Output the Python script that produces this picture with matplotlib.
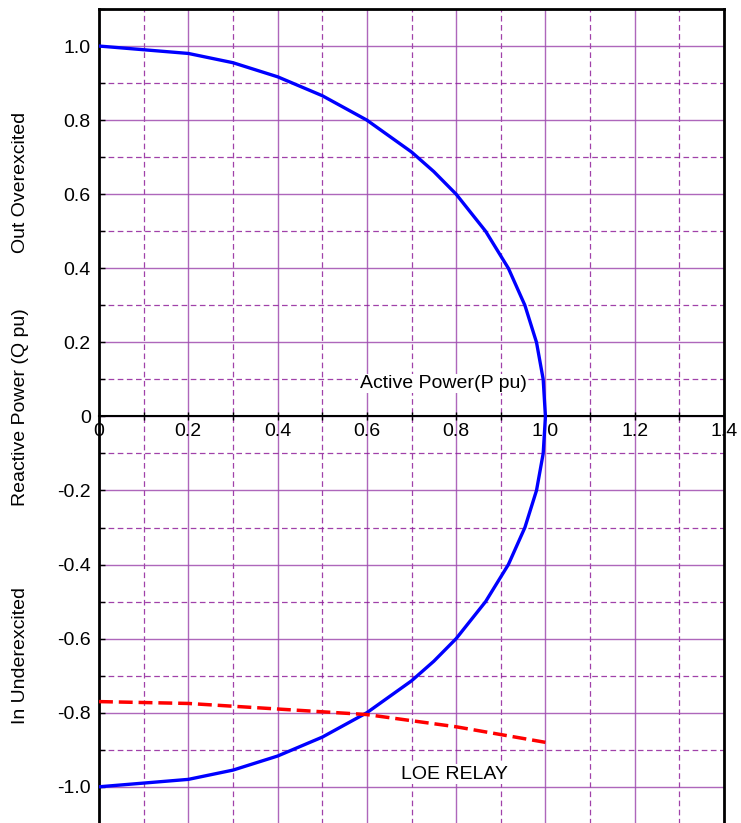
#!/usr/bin/env python3
"""Generator capability curve with LOE relay characteristic (P-Q plane)."""

import matplotlib
matplotlib.use("Agg")
import matplotlib.pyplot as plt
from matplotlib.ticker import MultipleLocator

plt.rcParams['font.family'] = ['Liberation Sans', 'DejaVu Sans']

# capability curve (upper half then lower half)
cap_p = [0.0, 0.2, 0.3, 0.4, 0.5, 0.6, 0.7, 0.75, 0.8, 0.866, 0.917, 0.954, 0.98, 0.995, 1.0,
         0.995, 0.98, 0.954, 0.917, 0.866, 0.8, 0.75, 0.7, 0.6, 0.5, 0.4, 0.3, 0.2, 0.0]
cap_q = [1.0, 0.98, 0.955, 0.917, 0.866, 0.8, 0.714, 0.661, 0.6, 0.5, 0.4, 0.3, 0.2, 0.1, 0.0,
         -0.1, -0.2, -0.3, -0.4, -0.5, -0.6, -0.661, -0.714, -0.8, -0.866, -0.917, -0.955, -0.98, -1.0]

# LOE relay line
loe_p = [0.0, 0.2, 0.4, 0.6, 0.8, 1.0]
loe_q = [-0.77, -0.775, -0.79, -0.805, -0.838, -0.88]

x_ticks = [0, 0.2, 0.4, 0.6, 0.8, 1.0, 1.2, 1.4]
x_labels = ['0', '0.2', '0.4', '0.6', '0.8', '1.0', '1.2', '1.4']
y_ticks = [1.0, 0.8, 0.6, 0.4, 0.2, 0, -0.2, -0.4, -0.6, -0.8, -1.0]
y_labels = ['1.0', '0.8', '0.6', '0.4', '0.2', '0', '-0.2', '-0.4', '-0.6', '-0.8', '-1.0']

fig = plt.figure(figsize=(7.41, 8.23), dpi=100)
ax = fig.add_axes([99 / 741, -0.001, 625 / 741, 1 - 9 / 823 + 0.001])

ax.set_xlim(0, 1.4)
ax.set_ylim(-1.1, 1.1)

ax.set_xticks(x_ticks)
ax.set_xticklabels(x_labels)
ax.set_yticks(y_ticks)
ax.set_yticklabels(y_labels)
ax.xaxis.set_minor_locator(MultipleLocator(0.1))
ax.yaxis.set_minor_locator(MultipleLocator(0.1))
ax.grid(True, which='major', color='#a04cb0', linewidth=1.0, alpha=0.85)
ax.grid(True, which='minor', color='#8f1f9a', linewidth=0.9, alpha=0.85,
        linestyle=(0, (4.5, 2.8)))
ax.set_axisbelow(True)

# x axis runs through Q = 0
ax.spines['bottom'].set_position(('data', 0))
ax.spines['bottom'].set_linewidth(1.5)
for s in ['left', 'top', 'right']:
    ax.spines[s].set_linewidth(2.0)

ax.tick_params(axis='x', which='both', direction='inout', length=6, width=1,
               labelsize=14, pad=2)
ax.tick_params(axis='y', which='both', direction='in', length=4, width=1,
               labelsize=14, pad=6)

ax.plot(cap_p, cap_q, color='blue', linewidth=2.4, zorder=3)
ax.plot(loe_p, loe_q, color='red', linewidth=2.5, linestyle=(0, (4, 1.7)), zorder=3)

ax.text(0.771, 0.089, 'Active Power(P pu)', fontsize=14, ha='center', va='center',
        bbox=dict(facecolor='white', edgecolor='none', pad=1), zorder=4)
ax.text(0.797, -0.966, 'LOE RELAY', fontsize=14, ha='center', va='center',
        bbox=dict(facecolor='white', edgecolor='none', pad=1), zorder=4)

fig.text(21 / 741, 1 - 182 / 823, 'Out Overexcited', rotation=90, fontsize=14,
         ha='center', va='center')
fig.text(21 / 741, 1 - 407 / 823, 'Reactive Power (Q pu)', rotation=90, fontsize=14,
         ha='center', va='center')
fig.text(21 / 741, 1 - 655 / 823, 'In Underexcited', rotation=90, fontsize=14,
         ha='center', va='center')

fig.savefig('out.png', dpi=100)
